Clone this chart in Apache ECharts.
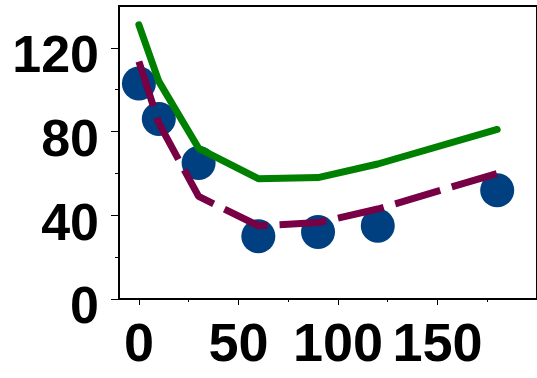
<!DOCTYPE html>
<html>
<head>
<meta charset="utf-8">
<script src="https://cdn.jsdelivr.net/npm/echarts@6/dist/echarts.min.js"></script>
<style>
  html, body { margin: 0; padding: 0; background: #fff; }
  #chart { width: 537px; height: 378px; }
</style>
</head>
<body>
<div id="chart"></div>
<script>
var xTicks = [0, 50, 100, 150];
var xMinorTicks = [25, 75, 125, 175];
var yTicks = [0, 40, 80, 120];
var yMinorTicks = [20, 60, 100];

var observed = [[0, 103], [10, 86], [30, 65], [60, 30], [90, 32], [120, 35], [180, 52]];
var greenLine = [[0, 131], [10, 104], [30, 72], [60, 57.5], [90, 58], [120, 64.5], [180, 81]];
var purpleLine = [[0, 113.5], [10, 84], [30, 49], [60, 35], [90, 36.5], [120, 43], [180, 60]];

var labelFont = {
    fontFamily: 'Liberation Sans, Arial, sans-serif',
    fontWeight: 'bold',
    color: '#000'
};

var dom = document.getElementById('chart');
var myChart = echarts.init(dom);
var option = {
    animation: false,
    backgroundColor: '#fff',
    grid: {
        left: 119,
        top: 6,
        right: -6,
        bottom: 79,
        show: true,
        borderColor: '#000',
        borderWidth: 2
    },
    xAxis: [
        {
            type: 'value',
            min: -10,
            max: 200,
            splitLine: { show: false },
            axisLine: { show: true, onZero: false, lineStyle: { color: '#000', width: 2 } },
            axisTick: { show: true, customValues: xTicks, length: 6, lineStyle: { color: '#000', width: 1 } },
            axisLabel: Object.assign({ customValues: xTicks, fontSize: 54, margin: 20 }, labelFont)
        },
        {
            type: 'value',
            position: 'bottom',
            min: -10,
            max: 200,
            splitLine: { show: false },
            axisLine: { show: false, onZero: false },
            axisTick: { show: true, customValues: xMinorTicks, length: 3, lineStyle: { color: '#000', width: 1 } },
            axisLabel: { show: false }
        }
    ],
    yAxis: [
        {
            type: 'value',
            min: 0,
            max: 140,
            splitLine: { show: false },
            axisLine: { show: true, onZero: false, lineStyle: { color: '#000', width: 2 } },
            axisTick: { show: true, customValues: yTicks, length: 8, lineStyle: { color: '#000', width: 1 } },
            axisLabel: Object.assign({ customValues: yTicks, fontSize: 52, margin: 20, verticalAlign: 'top', lineHeight: 20 }, labelFont)
        },
        {
            type: 'value',
            position: 'left',
            min: 0,
            max: 140,
            splitLine: { show: false },
            axisLine: { show: false, onZero: false },
            axisTick: { show: true, customValues: yMinorTicks, length: 4, lineStyle: { color: '#000', width: 1 } },
            axisLabel: { show: false }
        }
    ],
    series: [
        {
            type: 'scatter',
            data: observed,
            symbol: 'circle',
            symbolSize: 34,
            itemStyle: { color: '#003f80', opacity: 1 },
            z: 1
        },
        {
            type: 'line',
            data: greenLine,
            showSymbol: false,
            symbol: 'none',
            lineStyle: { color: '#008000', width: 7, cap: 'round', join: 'round' },
            z: 2
        },
        {
            type: 'line',
            data: purpleLine,
            showSymbol: false,
            symbol: 'none',
            lineStyle: { color: '#780045', width: 7, type: [47, 12], cap: 'butt' },
            z: 3
        }
    ]
};
myChart.setOption(option, true);
window.onresize = myChart.resize;
</script>
</body>
</html>
